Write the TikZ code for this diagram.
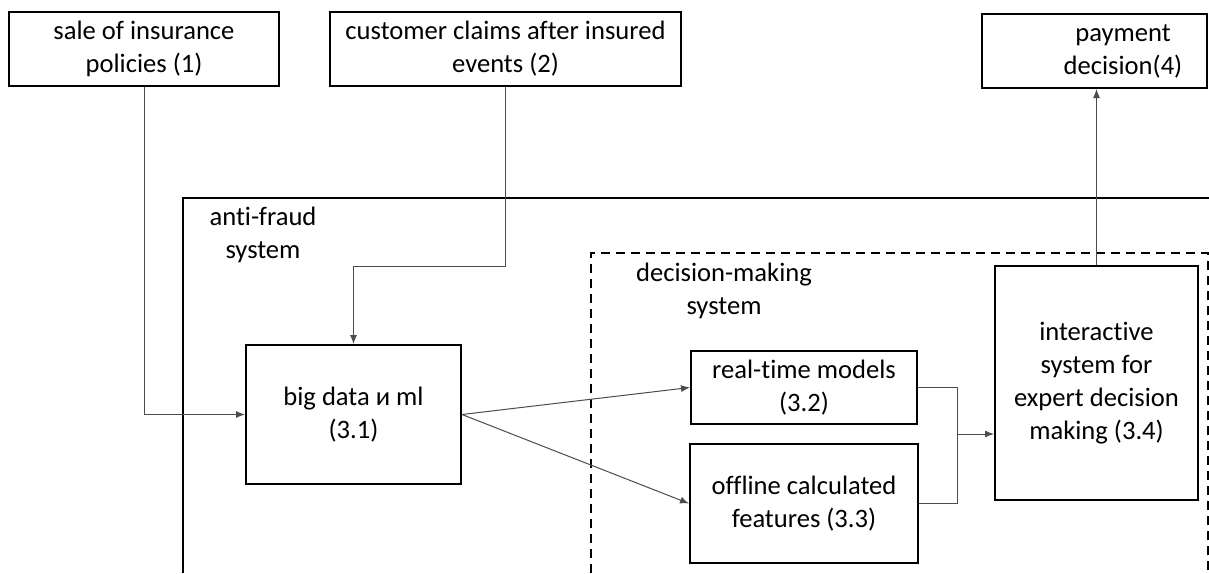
\documentclass[tikz,border=0pt]{standalone}
\usepackage{fontspec}
\setmainfont{Carlito}[Ligatures=NoCommon]
\usepackage{tikz}
\usetikzlibrary{positioning}
\usetikzlibrary{arrows.meta}

\tikzset{
    block/.style={draw, line width=1pt, align=center, inner sep=0pt,
        font=\fontsize{13.3}{16.5}\selectfont},
    caption/.style={align=center, inner sep=0pt, font=\fontsize{13.3}{16.5}\selectfont},
    conn/.style={draw=black!70, line width=0.5pt},
}

\begin{document}
\begin{tikzpicture}[x=0.5pt, y=-0.5pt, >={Latex[length=4.5pt,width=3.5pt]}]
            \useasboundingbox (0,0) rectangle (1209,573);
            % outer frames
            \draw[line width=1pt] (183,573) |- (1209,198);
            \draw[line width=1pt, dash pattern=on 4.5pt off 3pt] (591,573) |- (1208,253) -- (1208,573);
            \node[caption] (antifraud) at (263,235) {anti-fraud\\system};
            \node[caption] (decisionsys) at (724,291) {decision-making\\system};
            % inputs and output
            \node[block, minimum width=135pt, minimum height=37pt] (sale) at (144,49) {sale of insurance\\policies (1)};
            \node[block, minimum width=175.5pt, minimum height=37pt] (claims) at (505.5,49) {customer claims after insured\\events (2)};
            \node[block, minimum width=112.5pt, minimum height=37pt,
                  label={[caption, xshift=14.25pt]center:payment\\decision(4)}] (payment) at (1094.5,51) {};
            % processing
            \node[block, minimum width=107.5pt, minimum height=69.5pt] (bigdata) at (353.5,414.5) {big data и ml\\(3.1)};
            \node[block, minimum width=113pt, minimum height=36.5pt] (realtime) at (804,387.5) {real-time models\\(3.2)};
            \node[block, minimum width=114pt, minimum height=59.5pt, below=9pt of realtime] (offline) {offline calculated\\features (3.3)};
            \node[block, minimum width=101.5pt, minimum height=117pt] (interactive) at (1096.5,383) {interactive\\system for\\expert decision\\making (3.4)};
            \coordinate (claimsturn) at (353.5,266);
            \coordinate (join) at (957,434);
            \draw[conn, ->] (sale.south) |- (bigdata.west);
            \draw[conn] (claims.south) |- (claimsturn);
            \draw[conn, ->] (claimsturn) -- (bigdata.north);
            \draw[conn, ->] (bigdata.east) -- (realtime.west);
            \draw[conn, ->] (bigdata.east) -- (offline.west);
            \draw[conn] (realtime.east) -| (join);
            \draw[conn] (offline.east) -| (join);
            \draw[conn, ->] (join) -- (interactive.west |- join);
            \draw[conn, ->] (interactive.north) -- (interactive.north |- payment.south);
        \end{tikzpicture}
\end{document}
